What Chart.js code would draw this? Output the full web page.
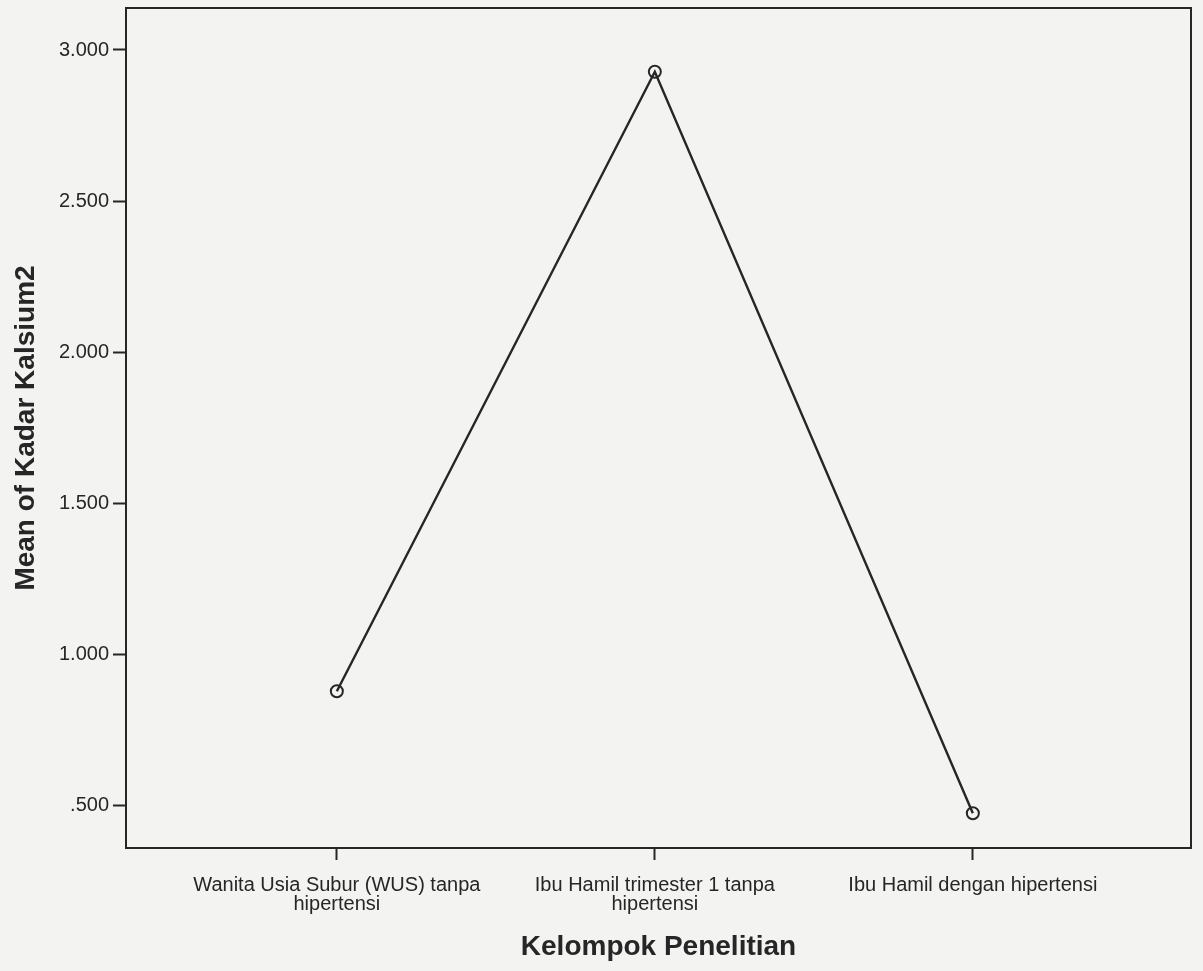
<!DOCTYPE html>
<html>
<head>
<meta charset="utf-8">
<script src="https://cdn.jsdelivr.net/npm/chart.js@4"></script>
<style>
  html, body { margin: 0; padding: 0; background: #f3f3f2; }
  #wrap { width: 1203px; height: 971px; }
</style>
</head>
<body>
<div id="wrap"><canvas id="meanChart" width="1203" height="971"></canvas></div>
<script>
// categories (x) and mean values
var groups = [
  ['Wanita Usia Subur (WUS) tanpa', 'hipertensi'],
  ['Ibu Hamil trimester 1 tanpa', 'hipertensi'],
  ['Ibu Hamil dengan hipertensi']
];
var meanKalsium = [0.877, 2.928, 0.473];
var yTicks = [0.5, 1.0, 1.5, 2.0, 2.5, 3.0];

var ink = '#262626';

// box around the plot area, like the SPSS frame
var frame = {
  id: 'frame',
  afterDraw: function (chart) {
    var a = chart.chartArea, ctx = chart.ctx;
    ctx.save();
    ctx.strokeStyle = ink;
    ctx.lineWidth = 2;
    ctx.strokeRect(a.left, a.top, a.right - a.left, a.bottom - a.top);
    ctx.restore();
  }
};

var points = meanKalsium.map(function (v, i) { return {x: i + 1, y: v}; });

new Chart(document.getElementById('meanChart'), {
  type: 'line',
  data: {
    datasets: [{
      label: 'Mean of Kadar Kalsium2',
      data: points,
      borderColor: ink,
      borderWidth: 2.4,
      tension: 0,
      pointRadius: 6,
      pointBorderWidth: 2,
      pointBorderColor: ink,
      pointBackgroundColor: 'rgba(0,0,0,0)'
    }]
  },
  options: {
    responsive: false,
    animation: false,
    layout: { padding: { left: 0, top: 8, right: 12, bottom: 0 } },
    plugins: { legend: { display: false }, tooltip: { enabled: false } },
    scales: {
      x: {
        type: 'linear',
        min: 0.337,
        max: 3.686,
        afterBuildTicks: function (s) { s.ticks = groups.map(function (g, i) { return {value: i + 1}; }); },
        afterFit: function (s) { s.height = 123; },
        grid: { drawOnChartArea: false, tickLength: 12, color: ink, tickWidth: 2 },
        border: { color: ink, width: 2 },
        ticks: {
          autoSkip: false,
          maxRotation: 0,
          padding: 16,
          color: ink,
          font: { family: '"Liberation Sans", Arial, sans-serif', size: 20, lineHeight: 0.95 },
          callback: function (v) { return groups[v - 1] || ''; }
        },
        title: {
          display: true,
          text: 'Kelompok Penelitian',
          color: ink,
          padding: { top: 0, bottom: 7 },
          font: { family: '"Liberation Sans", Arial, sans-serif', size: 28, weight: 'bold' }
        }
      },
      y: {
        min: 0.358,
        max: 3.139,
        afterBuildTicks: function (s) { s.ticks = yTicks.map(function (v) { return {value: v}; }); },
        afterFit: function (s) { s.width = 126; s.paddingTop = 0; s.paddingBottom = 0; },
        grid: { drawOnChartArea: false, tickLength: 13, color: ink, tickWidth: 2 },
        border: { color: ink, width: 2 },
        ticks: {
          padding: 4,
          color: ink,
          font: { family: '"Liberation Sans", Arial, sans-serif', size: 20 },
          callback: function (v) { return v.toFixed(3).replace(/^0/, ''); }
        },
        title: {
          display: true,
          text: 'Mean of Kadar Kalsium2',
          color: ink,
          padding: { top: 9, bottom: 0 },
          font: { family: '"Liberation Sans", Arial, sans-serif', size: 28, weight: 'bold' }
        }
      }
    }
  },
  plugins: [frame]
});
</script>
</body>
</html>
